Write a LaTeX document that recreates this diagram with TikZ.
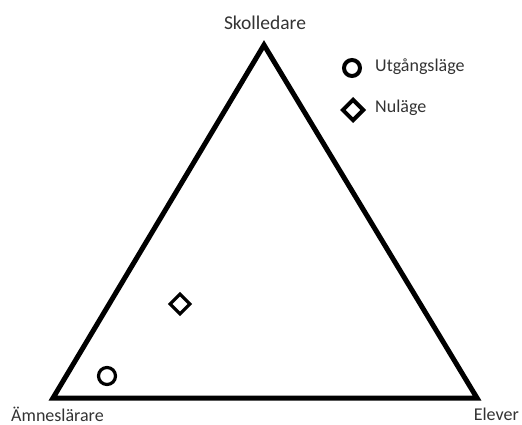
\documentclass[tikz,border=0pt]{standalone}
\usepackage{fontspec}
\setmainfont{Carlito}
\usetikzlibrary{positioning, shapes.geometric}

\begin{document}
\begin{tikzpicture}[x=1pt, y=-1pt]
  \tikzset{
    side/.style={line width=5pt, line join=miter},
    lbl/.style={font=\fontsize{18}{21}\selectfont, text=black!80, inner sep=0pt},
    start/.style={circle, draw, line width=3.2pt, minimum size=17pt, inner sep=0pt},
    nowmark/.style={diamond, draw, line width=3.2pt, minimum size=21pt, inner sep=0pt},
  }
  \useasboundingbox (0,0) rectangle (522,425);

  % Triangle corners
  \coordinate (skol) at (264,45);
  \coordinate (amne) at (53,398);
  \coordinate (elev) at (477,398);
  \draw[side] (skol) -- (amne) -- (elev) -- cycle;

  % Corner labels
  \node[lbl, font=\fontsize{19.5}{22}\selectfont] (skollbl) at (265,23) {Skolledare};
  \node[lbl, anchor=west] (amnelbl) at (11,414) {Ämneslärare};
  \node[lbl, anchor=east] (elevlbl) at (519,414) {Elever};

  % Positions
  \node[start] (utg) at (107,376) {};
  \node[nowmark] (nu) at (180,304) {};

  % Legend
  \node[start, line width=4pt, minimum size=16pt] (keyutg) at (352,68) {};
  \node[lbl, anchor=west] (keyutgtxt) at (375,67) {Utgångsläge};
  \node[nowmark, line width=4pt, minimum size=22pt] (keynu) at (353,110) {};
  \node[lbl, anchor=west] (keynutxt) at (375,108) {Nuläge};
\end{tikzpicture}
\end{document}
